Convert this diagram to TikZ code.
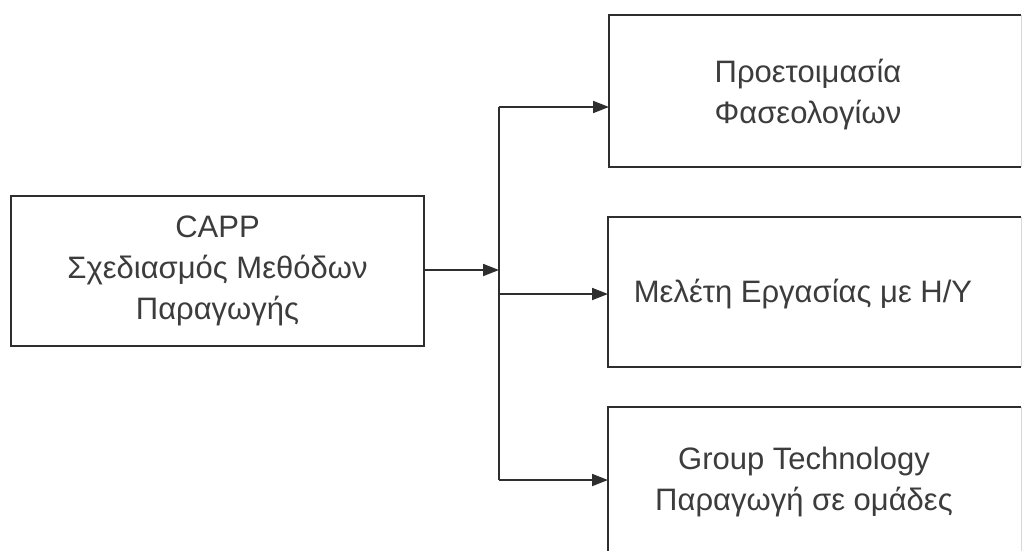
\documentclass[tikz,border=0pt]{standalone}
\usepackage{fontspec}
\setmainfont{Liberation Sans}
\usetikzlibrary{arrows.meta}
\definecolor{ink}{HTML}{2E2E2E}
\definecolor{txt}{HTML}{3C3C3C}
\definecolor{faint}{HTML}{D8D8D8}
\begin{document}
\begin{tikzpicture}[x=1pt,y=-1pt,
  boxline/.style={draw=ink,line width=1.8pt},
  plain/.style={draw=none,inner sep=0pt,outer sep=0pt},
  label/.style={text=txt,align=center,font=\fontsize{31}{41}\selectfont},
  conn/.style={draw=ink,line width=1.8pt},
  arr/.style={conn,-{Triangle[length=16pt,width=12pt]}}]
\useasboundingbox (0,0) rectangle (1024,550);
\fill[white] (0,0) rectangle (1024,550);
\clip (0,0) rectangle (1024,550);

% source box
\node[boxline,label,minimum width=413pt,minimum height=150pt,inner sep=0pt]
  (capp) at (217.5,271) {CAPP\\Σχεδιασμός Μεθόδων\\Παραγωγής};

% target boxes (their right ends run to the page edge)
\node[plain,minimum width=412pt,minimum height=152pt] (b1) at (815,91) {};
\node[plain,minimum width=413pt,minimum height=150pt] (b2) at (814.5,292) {};
\node[plain,minimum width=413pt,minimum height=180pt] (b3) at (814.5,497) {};
\foreach \b in {b1,b2,b3}{
  \draw[boxline] (\b.north east) -- (\b.north west) -- (\b.south west) -- (\b.south east);
  \draw[faint,line width=1pt] (\b.north east) -- (\b.south east);
}

\node[label] (t1) at (808,95) {Προετοιμασία\\Φασεολογίων};
\node[label] (t2) at (803,294) {Μελέτη Εργασίας με H/Y};
\node[label] (t3) at (804,482) {Group Technology\\Παραγωγή σε ομάδες};

% distribution bus
\coordinate (j0) at (499,270);
\coordinate (j1) at (499,107);
\coordinate (j2) at (499,294);
\coordinate (j3) at (499,480);

\draw[arr] (capp.east |- j0) -- (j0);
\draw[conn] (j1) -- (j3);
\draw[arr] (j1) -- (j1 -| b1.west);
\draw[arr] (j2) -- (j2 -| b2.west);
\draw[arr] (j3) -- (j3 -| b3.west);
\end{tikzpicture}
\end{document}
